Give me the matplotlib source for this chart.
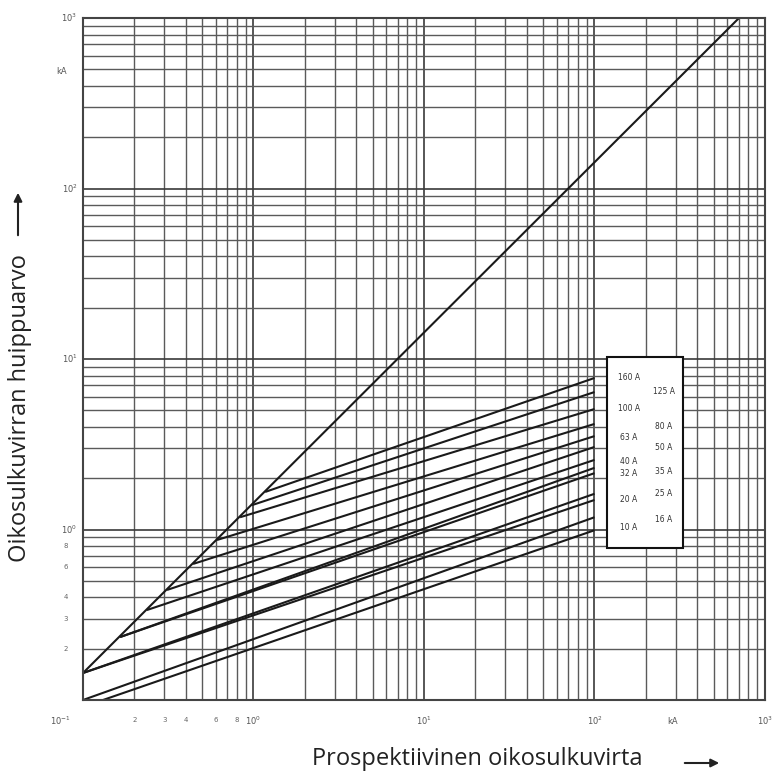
import numpy as np
import matplotlib.pyplot as plt
from matplotlib.ticker import LogLocator, NullFormatter
from matplotlib.patches import Rectangle

# fuse ratings, in the order they appear from bottom to top
ratings = ['10 A', '16 A', '20 A', '25 A', '32 A', '35 A', '40 A',
           '50 A', '63 A', '80 A', '100 A', '125 A', '160 A']
# start point of each cut-off line (kA)
i_start = [0.131, 0.1, 0.1, 0.1, 0.165, 0.165, 0.237,
           0.311, 0.442, 0.611, 0.834, 0.98, 1.17]
ip_start = [0.1, 0.1, 0.144, 0.144, 0.234, 0.234, 0.337,
            0.442, 0.628, 0.868, 1.18, 1.39, 1.66]
# let-through peak at 100 kA prospective current
i_end = 100
ip_end = [0.99, 1.18, 1.49, 1.62, 2.14, 2.30, 2.56,
          3.05, 3.53, 4.16, 5.09, 6.40, 7.74]

# peak line without current limitation
diag_i = [0.1, 704]
diag_ip = [0.144, 1000]

W, H = 779, 782
fig = plt.figure(figsize=(W / 100, H / 100), dpi=100)
x0, y0, x1, y1 = 83, 18, 765, 700
ax = fig.add_axes([x0 / W, 1 - y1 / H, (x1 - x0) / W, (y1 - y0) / H])
ax.set_xscale('log')
ax.set_yscale('log')
ax.set_xlim(0.1, 1000)
ax.set_ylim(0.1, 1000)

for a in (ax.xaxis, ax.yaxis):
    a.set_major_locator(LogLocator(base=10))
    a.set_minor_locator(LogLocator(base=10, subs=np.arange(2, 10)))
    a.set_minor_formatter(NullFormatter())
ax.grid(which='major', color='#3a3a3a', lw=1.2)
ax.grid(which='minor', color='#5a5a5a', lw=1.0)
ax.tick_params(which='both', length=0, labelbottom=False, labelleft=False)
for s in ax.spines.values():
    s.set_color('#444444')
    s.set_linewidth(1.5)

ax.plot(diag_i, diag_ip, color='#1a1a1a', lw=1.5)
for k in range(len(ratings)):
    ax.plot([i_start[k], i_end], [ip_start[k], ip_end[k]],
            color='#1a1a1a', lw=1.5, solid_capstyle='butt')

# legend box with ratings
ax.add_patch(Rectangle(((607 - x0) / 682, (y1 - 548) / 682), 76 / 682, 191 / 682,
                       transform=ax.transAxes, facecolor='white',
                       edgecolor='#111111', lw=1.5, zorder=5))
lab_pos = {'160 A': (629, 378), '125 A': (664, 392), '100 A': (629, 409),
           '80 A': (664, 426), '63 A': (629, 437), '50 A': (664, 448),
           '40 A': (629, 462), '35 A': (664, 472), '32 A': (629, 474),
           '25 A': (664, 493), '20 A': (629, 499), '16 A': (664, 520),
           '10 A': (629, 528)}
for lab in ratings:
    px, py = lab_pos[lab]
    fig.text(px / W, 1 - py / H, lab, fontsize=5.5, color='#333333',
             ha='center', va='center', zorder=6)

# tick labels
tick_kw = dict(fontsize=6, color='#555555')
xt = ax.get_xaxis_transform()
yt = ax.get_yaxis_transform()
for v, lab in [(1, r'$10^0$'), (10, r'$10^1$'), (100, r'$10^2$'), (1000, r'$10^3$')]:
    ax.text(v, -0.03, lab, transform=xt, ha='center', va='center', **tick_kw)
ax.text(0.074, -0.03, r'$10^{-1}$', transform=xt, ha='center', va='center', **tick_kw)
for v in [2, 3, 4, 6, 8]:
    ax.text(v / 10, -0.03, str(v), transform=xt, ha='center', va='center', fontsize=5, color='#666666')
    ax.text(-0.025, v / 10, str(v), transform=yt, ha='center', va='center', fontsize=5, color='#666666')
for v, lab in [(1, r'$10^0$'), (10, r'$10^1$'), (100, r'$10^2$'), (1000, r'$10^3$')]:
    ax.text(-0.008, v, lab, transform=yt, ha='right', va='center', **tick_kw)
fig.text(62 / W, 1 - 72 / H, 'kA', fontsize=6, color='#555555', ha='center', va='center')
fig.text(673 / W, 1 - 722 / H, 'kA', fontsize=6, color='#555555', ha='center', va='center')

# axis titles with arrows
fig.text(312 / W, 1 - 759 / H, 'Prospektiivinen oikosulkuvirta', fontsize=17,
         family='Open Sans', color='#222222', ha='left', va='center')
fig.text(20 / W, 1 - 408 / H, 'Oikosulkuvirran huippuarvo', fontsize=17,
         family='Open Sans', color='#222222', ha='center', va='center', rotation=90)
ax.annotate('', xy=(722 / W, 1 - 763 / H), xytext=(682 / W, 1 - 763 / H),
            xycoords='figure fraction', textcoords='figure fraction',
            arrowprops=dict(arrowstyle='-|>', color='#222222', lw=1.5, mutation_scale=12))
ax.annotate('', xy=(18 / W, 1 - 190 / H), xytext=(18 / W, 1 - 238 / H),
            xycoords='figure fraction', textcoords='figure fraction',
            arrowprops=dict(arrowstyle='-|>', color='#222222', lw=1.5, mutation_scale=12))

fig.savefig('out.png', dpi=100, facecolor='white')
